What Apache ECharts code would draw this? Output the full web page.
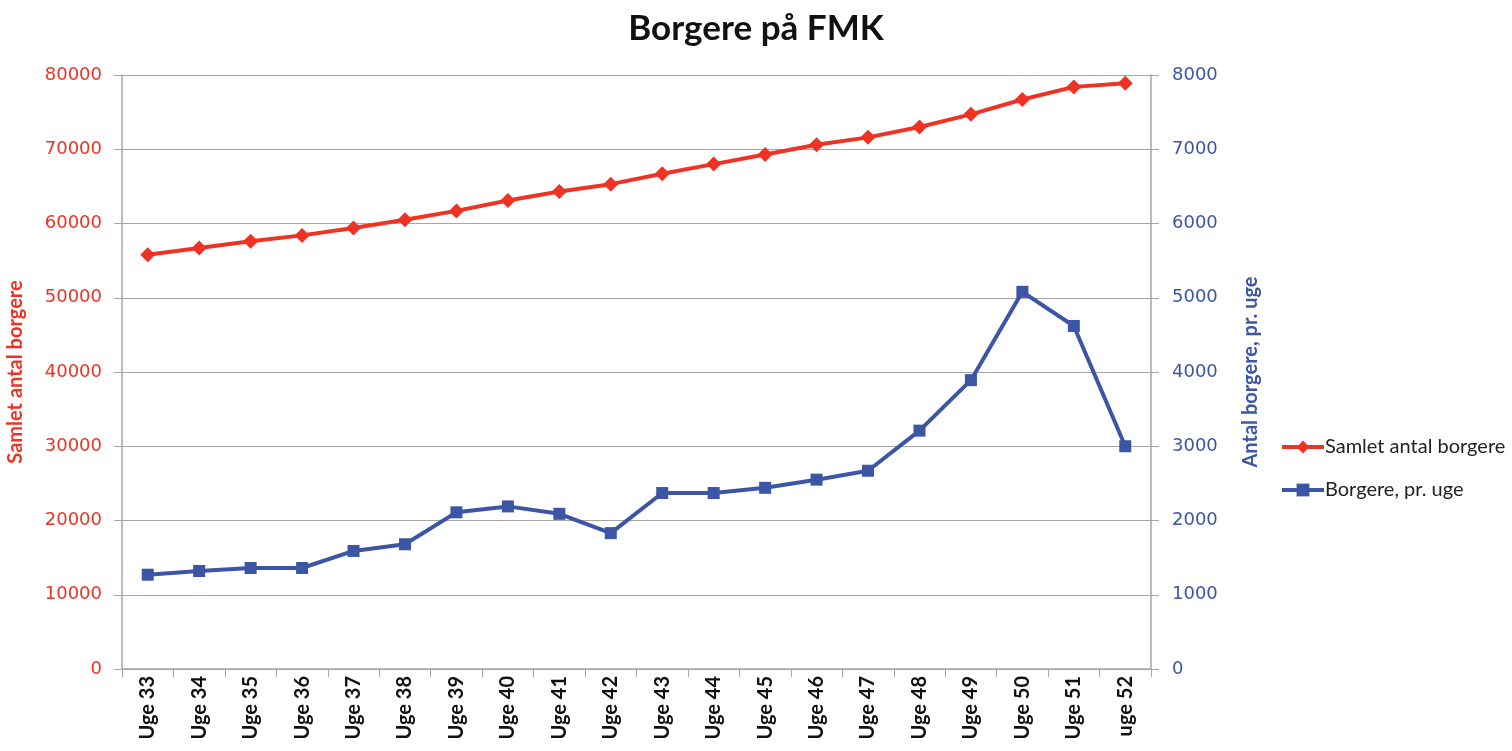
<!DOCTYPE html>
<html>
<head>
<meta charset="utf-8">
<title>Borgere på FMK</title>
<script src="https://cdn.jsdelivr.net/npm/echarts@6/dist/echarts.min.js"></script>
<style>
  html, body { margin: 0; padding: 0; background: #fff; }
  #chart { width: 1512px; height: 751px; }
</style>
</head>
<body>
<div id="chart"></div>
<script>
// data
const weeks = ['Uge 33', 'Uge 34', 'Uge 35', 'Uge 36', 'Uge 37', 'Uge 38', 'Uge 39', 'Uge 40', 'Uge 41', 'Uge 42',
  'Uge 43', 'Uge 44', 'Uge 45', 'Uge 46', 'Uge 47', 'Uge 48', 'Uge 49', 'Uge 50', 'Uge 51', 'uge 52']
const samletAntal = [55800, 56700, 57600, 58400, 59400, 60500, 61700, 63100, 64300, 65300,
  66700, 68000, 69300, 70600, 71600, 73000, 74700, 76700, 78400, 78900]
const prUge = [1270, 1320, 1360, 1360, 1590, 1680, 2110, 2190, 2090, 1830,
  2370, 2370, 2440, 2550, 2670, 3210, 3890, 5080, 4620, 3000]

const RED = '#ee3224'
const BLUE = '#3c55a5'
const GRID = '#a6a6a6'
const FONT = 'Lato, "Open Sans", sans-serif'
const NUMFONT = '"DejaVu Sans", sans-serif'

const chart = echarts.init(document.getElementById('chart'))

const option = {
  animation: false,
  textStyle: { fontFamily: FONT },
  title: {
    text: 'Borgere på FMK',
    left: 'center',
    top: 6,
    textStyle: { fontSize: 35, fontWeight: 'bold', color: '#111', fontFamily: FONT }
  },
  legend: {
    orient: 'vertical',
    left: 1280,
    top: 437,
    padding: 0,
    itemGap: 23,
    itemWidth: 42,
    itemHeight: 16,
    lineStyle: { width: 4 },
    textStyle: { fontSize: 20, color: '#222', fontFamily: FONT, padding: [0, 0, 0, -4] },
    data: ['Samlet antal borgere', 'Borgere, pr. uge']
  },
  grid: { left: 122, right: 361, top: 75, bottom: 82, outerBoundsMode: 'none', containLabel: false },
  xAxis: {
    type: 'category',
    data: weeks,
    boundaryGap: true,
    axisLine: { lineStyle: { color: GRID, width: 1.5 } },
    axisTick: { show: true, interval: 0, length: 8, lineStyle: { color: GRID } },
    axisLabel: { rotate: 90, interval: 0, fontSize: 20, fontWeight: 'bold', color: '#111', margin: 7 }
  },
  yAxis: [
    {
      type: 'value',
      min: 0, max: 80000, interval: 10000,
      name: 'Samlet antal borgere',
      nameLocation: 'middle',
      nameRotate: 90,
      nameGap: 96,
      nameTextStyle: { color: RED, fontSize: 20, fontWeight: 'bold', fontFamily: FONT },
      axisLine: { show: true, lineStyle: { color: GRID, width: 1.5 } },
      axisTick: { show: true, length: 8, lineStyle: { color: GRID } },
      axisLabel: { color: RED, fontSize: 18, fontFamily: NUMFONT, margin: 20, formatter: v => String(v) },
      splitLine: { lineStyle: { color: GRID, width: 1.2 } }
    },
    {
      type: 'value',
      min: 0, max: 8000, interval: 1000,
      name: 'Antal borgere, pr. uge',
      nameLocation: 'middle',
      nameRotate: 90,
      nameGap: 90,
      nameTextStyle: { color: BLUE, fontSize: 20, fontWeight: 'bold', fontFamily: FONT },
      axisLine: { show: true, lineStyle: { color: GRID, width: 1.5 } },
      axisTick: { show: true, length: 8, lineStyle: { color: GRID } },
      axisLabel: { color: BLUE, fontSize: 18, fontFamily: NUMFONT, margin: 21, formatter: v => String(v) },
      splitLine: { show: false }
    }
  ],
  series: [
    {
      name: 'Samlet antal borgere',
      type: 'line',
      yAxisIndex: 0,
      data: samletAntal,
      symbol: 'diamond',
      symbolSize: 15,
      lineStyle: { color: RED, width: 4 },
      itemStyle: { color: RED }
    },
    {
      name: 'Borgere, pr. uge',
      type: 'line',
      yAxisIndex: 1,
      data: prUge,
      symbol: 'rect',
      symbolSize: 12,
      lineStyle: { color: BLUE, width: 4 },
      itemStyle: { color: BLUE }
    }
  ]
}

chart.setOption(option)
</script>
</body>
</html>
